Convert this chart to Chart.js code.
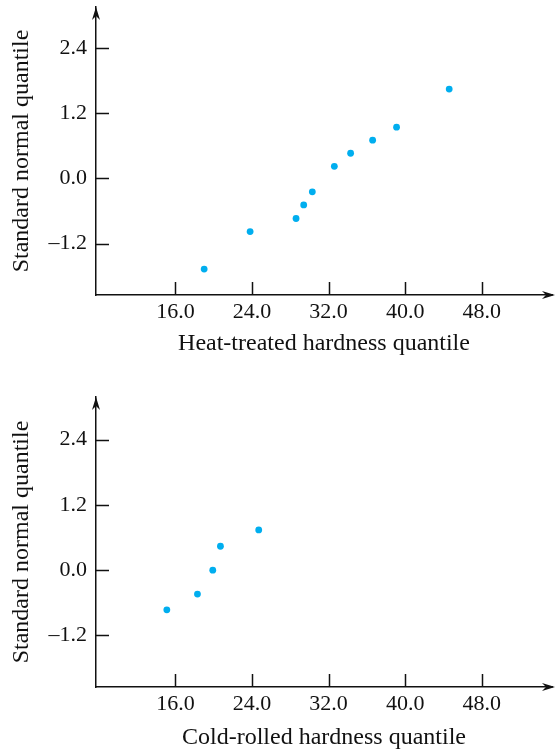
<!DOCTYPE html>
<html>
<head>
<meta charset="utf-8">
<script src="https://cdn.jsdelivr.net/npm/chart.js@4.4.1/dist/chart.umd.min.js"></script>
<style>
  html, body { margin: 0; padding: 0; background: #fff; }
  #wrap { position: relative; width: 556px; height: 752px; }
  canvas { position: absolute; left: 0; }
</style>
</head>
<body>
<div id="wrap">
  <canvas id="heat-chart" width="556" height="376" style="top:0"></canvas>
  <canvas id="cold-chart" width="556" height="376" style="top:376px"></canvas>
</div>
<script>
// Values
const xTicks = [16, 24, 32, 40, 48];
const yTicks = [-1.2, 0, 1.2, 2.4];

const heatHardness = [19.0, 23.8, 28.6, 29.4, 30.3, 32.6, 34.3, 36.6, 39.1, 44.6];
const heatNormal = [-1.67, -0.98, -0.74, -0.49, -0.25, 0.22, 0.46, 0.70, 0.94, 1.64];

const coldHardness = [15.1, 18.3, 19.9, 20.7, 24.7];
const coldNormal = [-0.73, -0.44, 0.0, 0.44, 0.74];

const INK = '#111111';
const DOT = '#00aeef';

Chart.defaults.font.family = "'Liberation Serif', 'Times New Roman', serif";
Chart.defaults.font.size = 22;
Chart.defaults.color = INK;

// tick marks drawn inside the plot, plus arrow heads at the axis ends
const axisDecor = {
  id: 'axisDecor',
  afterDraw(chart) {
    const ctx = chart.ctx;
    const area = chart.chartArea;
    const xs = chart.scales.x;
    const ys = chart.scales.y;
    ctx.save();
    ctx.strokeStyle = INK;
    ctx.fillStyle = INK;
    ctx.lineWidth = 1.5;
    ctx.beginPath();
    xTicks.forEach(v => {
      const px = Math.round(xs.getPixelForValue(v)) + 0.5;
      ctx.moveTo(px, area.bottom);
      ctx.lineTo(px, area.bottom - 13);
    });
    yTicks.forEach(v => {
      const py = Math.round(ys.getPixelForValue(v)) + 0.5;
      ctx.moveTo(area.left, py);
      ctx.lineTo(area.left + 13, py);
    });
    // the x axis runs on to the edge of the canvas
    const r = chart.width - 1;
    const b = area.bottom;
    ctx.moveTo(area.right, b);
    ctx.lineTo(r - 8, b);
    ctx.stroke();

    // up arrow
    const l = area.left;
    const t = area.top;
    ctx.beginPath();
    ctx.moveTo(l, t);
    ctx.lineTo(l - 4, t + 13);
    ctx.lineTo(l, t + 9);
    ctx.lineTo(l + 4, t + 13);
    ctx.closePath();
    ctx.fill();
    // right arrow
    ctx.beginPath();
    ctx.moveTo(r, b);
    ctx.lineTo(r - 13, b - 4);
    ctx.lineTo(r - 9, b);
    ctx.lineTo(r - 13, b + 4);
    ctx.closePath();
    ctx.fill();
    ctx.restore();
  }
};

const tickLabel = function(v) {
  const s = Number(v).toFixed(1);
  return v < 0 ? '\u2013' + s.slice(1) : s;
};

const buildChart = function(canvasId, xs, ys, xTitle, cfg) {
  const points = xs.map((x, i) => ({ x: x, y: ys[i] }));
  return new Chart(document.getElementById(canvasId), {
    type: 'scatter',
    data: {
      datasets: [{
        data: points,
        backgroundColor: DOT,
        borderWidth: 0,
        pointRadius: 3.4
      }]
    },
    options: {
      responsive: false,
      animation: false,
      events: [],
      layout: { padding: { top: cfg.padTop, right: 0, left: 0, bottom: 0 } },
      plugins: { legend: { display: false }, tooltip: { enabled: false } },
      scales: {
        x: {
          type: 'linear',
          min: 7.70,
          max: 55.34,
          afterBuildTicks: s => { s.ticks = xTicks.map(v => ({ value: v })); },
          afterFit: s => {
            s.height = cfg.xHeight;
            s.paddingLeft = 0;
            s.paddingRight = 0;
          },
          grid: { display: false, drawTicks: false },
          border: { display: true, color: INK, width: 1.5 },
          ticks: { padding: 4, callback: tickLabel, maxRotation: 0, autoSkip: false },
          title: {
            display: true, text: xTitle, font: { size: 24 },
            padding: { top: 0, bottom: cfg.xTitlePad }
          }
        },
        y: {
          type: 'linear',
          min: cfg.yMin,
          max: cfg.yMax,
          afterBuildTicks: s => { s.ticks = yTicks.map(v => ({ value: v })); },
          afterFit: s => {
            s.width = 96;
            s.paddingTop = 0;
            s.paddingBottom = 0;
          },
          grid: { display: false, drawTicks: false },
          border: { display: true, color: INK, width: 1.5 },
          ticks: { padding: 9, callback: tickLabel, autoSkip: false },
          title: {
            display: true, text: 'Standard normal quantile', font: { size: 24 },
            padding: { top: 7.5, bottom: 0 }
          }
        }
      }
    },
    plugins: [axisDecor]
  });
};

buildChart('heat-chart', heatHardness, heatNormal, 'Heat-treated hardness quantile',
  { padTop: 7, xHeight: 81, xTitlePad: 17.7, yMin: -2.147, yMax: 3.15 });
buildChart('cold-chart', coldHardness, coldNormal, 'Cold-rolled hardness quantile',
  { padTop: 21, xHeight: 65, xTitlePad: 0, yMin: -2.149, yMax: 3.185 });
</script>
</body>
</html>
